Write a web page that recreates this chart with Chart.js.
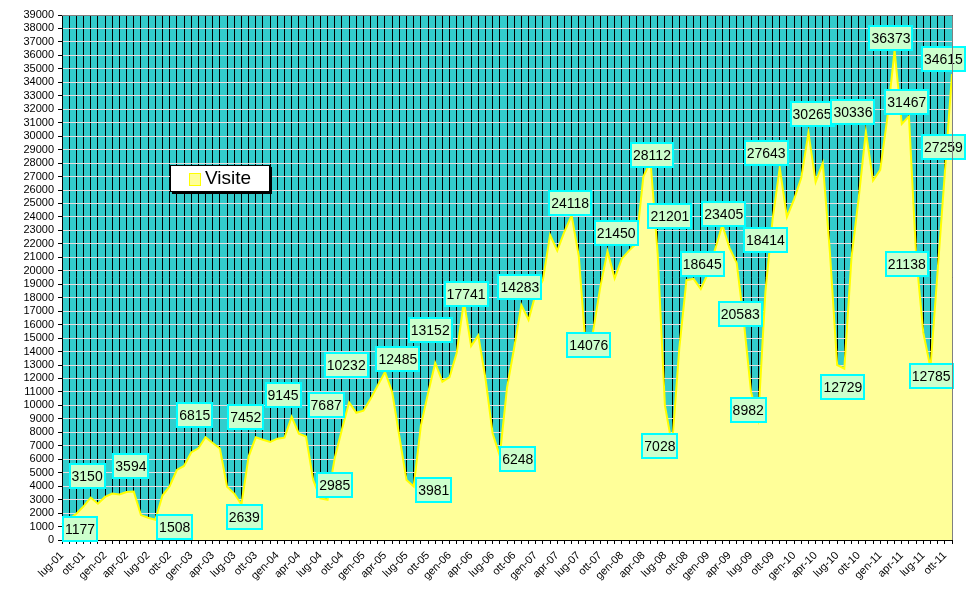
<!DOCTYPE html>
<html>
<head>
<meta charset="utf-8">
<title>Visite</title>
<script src="https://cdn.jsdelivr.net/npm/chart.js@4.4.1/dist/chart.umd.min.js"></script>
<style>
    body { margin: 0; background: #fff; }
    canvas { display: block; }
</style>
</head>
<body>
<canvas id="visiteChart" width="970" height="604"></canvas>
<script>
// months from lug-01 to nov-11, a label every 3 months
const monthNames = ['gen', 'feb', 'mar', 'apr', 'mag', 'giu', 'lug', 'ago', 'set', 'ott', 'nov', 'dic'];
const firstYear = 2001;
const firstMonth = 6; // lug

// monthly visits
const visite = [
    1177, 1550, 1950, 2500, 3150, 2700, 3200, 3450, 3380, 3560, 3594, 1850,
    1650, 1508, 3300, 4000, 5200, 5500, 6500, 6815, 7630, 7200, 6800, 3950,
    3450, 2639, 6200, 7630, 7452, 7280, 7530, 7600, 9145, 7900, 7687, 4450,
    3100, 2985, 6100, 8200, 10232, 9450, 9600, 10500, 11500, 12485, 11000, 7700,
    4450, 3981, 8500, 10900, 13152, 11760, 12100, 13900, 17741, 14400, 15200, 12000,
    7900, 6248, 11300, 14283, 17460, 16350, 18300, 19300, 22660, 21500, 22900, 24118,
    21100, 14076, 15500, 18800, 21450, 19440, 20900, 21500, 22000, 27000, 28112, 21201,
    10000, 7028, 14200, 19300, 19400, 18645, 19800, 21600, 23405, 21700, 20583, 16200,
    11000, 8982, 18414, 23800, 27643, 24000, 25300, 26900, 30265, 26600, 28000, 21300,
    13000, 12729, 21000, 25400, 30336, 26700, 27500, 31400, 36373, 30900, 31467, 21138,
    15400, 12785, 20000, 27259, 34615
];

// which points carry a value box, and where the box sits (category index, value level)
const labelPoint = [0, 4, 10, 13, 19, 28, 25, 32, 34, 37, 40, 45, 49, 52, 56, 61, 63, 71, 73, 76,
    82, 83, 85, 89, 92, 94, 97, 98, 100, 104, 112, 109, 116, 118, 119, 121, 124, 123];
const labelAtX = [2.5, 3.5, 9.6, 15.7, 18.5, 25.6, 25.4, 30.8, 36.8, 38.0, 39.6, 46.8, 51.8, 51.3, 56.3, 63.5, 63.8, 70.8, 73.4, 77.2,
    82.2, 84.7, 83.3, 89.2, 92.2, 94.5, 95.6, 98.0, 98.1, 104.5, 110.2, 108.8, 115.5, 117.7, 117.7, 121.1, 122.8, 122.8];
const labelAtY = [820, 4750, 5500, 970, 9290, 9140, 1710, 10770, 10030, 4090, 13000, 13450, 3710, 15600, 18270, 6020, 18790, 25030, 14490, 22810,
    28600, 24070, 6980, 20500, 24220, 16790, 9660, 22290, 28750, 31650, 31790, 11370, 37290, 32540, 20500, 12180, 35730, 29190];

const monthLabels = [];
for (let i = 0; i < visite.length; i++) {
    const m = (firstMonth + i) % 12;
    const y = firstYear + Math.floor((firstMonth + i) / 12);
    monthLabels.push(monthNames[m] + '-' + String(y % 100).padStart(2, '0'));
}

const FONT = "'Liberation Sans', Arial, sans-serif";

// cyan plot background and the grey frame on top / right
const plotBackground = {
    id: 'plotBackground',
    beforeDraw(chart) {
        const { ctx, chartArea: a } = chart;
        ctx.save();
        ctx.fillStyle = '#ffffff';
        ctx.fillRect(0, 0, chart.width, chart.height);
        ctx.fillStyle = '#33cccc';
        ctx.fillRect(a.left, a.top, a.right - a.left, a.bottom - a.top);
        ctx.restore();
    },
    afterDraw(chart) {
        const { ctx, chartArea: a } = chart;
        ctx.save();
        ctx.strokeStyle = '#808080';
        ctx.lineWidth = 1;
        ctx.beginPath();
        ctx.moveTo(a.left, a.top + 0.5);
        ctx.lineTo(a.right + 0.5, a.top + 0.5);
        ctx.lineTo(a.right + 0.5, a.bottom);
        ctx.stroke();
        ctx.restore();
    }
};

// green value boxes
const valueBoxes = {
    id: 'valueBoxes',
    afterDatasetsDraw(chart) {
        const { ctx } = chart;
        const xs = chart.scales.x;
        const ys = chart.scales.y;
        ctx.save();
        ctx.font = '14px ' + FONT;
        ctx.textAlign = 'center';
        ctx.textBaseline = 'middle';
        labelPoint.forEach((p, k) => {
            const text = String(visite[p]);
            const cx = xs.getPixelForValue(labelAtX[k]);
            const cy = ys.getPixelForValue(labelAtY[k]);
            const w = Math.round(ctx.measureText(text).width) + 4;
            const h = 24;
            const left = Math.round(cx - w / 2);
            const top = Math.round(cy - h / 2);
            ctx.fillStyle = '#ccffcc';
            ctx.fillRect(left, top, w, h);
            ctx.strokeStyle = '#00ffff';
            ctx.lineWidth = 2;
            ctx.strokeRect(left, top, w, h);
            ctx.fillStyle = '#000';
            ctx.fillText(text, cx, cy + 1);
        });
        ctx.restore();
    }
};

// legend box inside the plot
const legendBox = {
    id: 'legendBox',
    afterDraw(chart) {
        const { ctx, chartArea: a } = chart;
        const x = a.left + 108, y = a.top + 150, w = 100, h = 27;
        ctx.save();
        ctx.fillStyle = '#000';
        ctx.fillRect(x + 2, y + 2, w, h);
        ctx.fillStyle = '#fff';
        ctx.fillRect(x, y, w, h);
        ctx.strokeStyle = '#000';
        ctx.lineWidth = 1;
        ctx.strokeRect(x + 0.5, y + 0.5, w - 1, h - 1);
        ctx.fillStyle = '#ffff99';
        ctx.fillRect(x + 19, y + 8, 11, 12);
        ctx.strokeStyle = '#ffff00';
        ctx.strokeRect(x + 19.5, y + 8.5, 11, 12);
        ctx.fillStyle = '#000';
        ctx.font = '19px ' + FONT;
        ctx.textBaseline = 'middle';
        ctx.fillText(chart.data.datasets[0].label, x + 35, y + 14);
        ctx.restore();
    }
};

const ctx = document.getElementById('visiteChart').getContext('2d');
new Chart(ctx, {
    type: 'line',
    data: {
        labels: monthLabels,
        datasets: [{
            label: 'Visite',
            data: visite,
            fill: 'origin',
            backgroundColor: '#ffff99',
            borderColor: '#ffff00',
            borderWidth: 2,
            tension: 0,
            pointRadius: 0
        }]
    },
    options: {
        responsive: false,
        animation: false,
        devicePixelRatio: 1,
        layout: { padding: { top: 15, right: 18, left: 0, bottom: 0 } },
        plugins: {
            legend: { display: false },
            tooltip: { enabled: false }
        },
        scales: {
            x: {
                type: 'category',
                offset: false,
                grid: { color: '#000', tickColor: '#000', tickLength: 4, offset: false },
                border: { color: '#000' },
                ticks: {
                    autoSkip: false,
                    minRotation: 45,
                    maxRotation: 45,
                    padding: 5,
                    color: '#000',
                    font: { family: FONT, size: 11 },
                    callback: (v, i) => (i % 3 === 0 ? monthLabels[i] : '')
                },
                afterFit: (s) => { s.height = 64; }
            },
            y: {
                min: 0,
                max: 39000,
                grid: { color: '#eadede', tickColor: '#000', tickLength: 4 },
                border: { color: '#000' },
                ticks: {
                    stepSize: 1000,
                    maxTicksLimit: 100,
                    autoSkip: false,
                    padding: 4,
                    color: '#000',
                    font: { family: FONT, size: 11 },
                    callback: (v) => String(v)
                },
                afterFit: (s) => { s.width = 62; }
            }
        }
    },
    plugins: [plotBackground, valueBoxes, legendBox]
});
</script>
</body>
</html>
